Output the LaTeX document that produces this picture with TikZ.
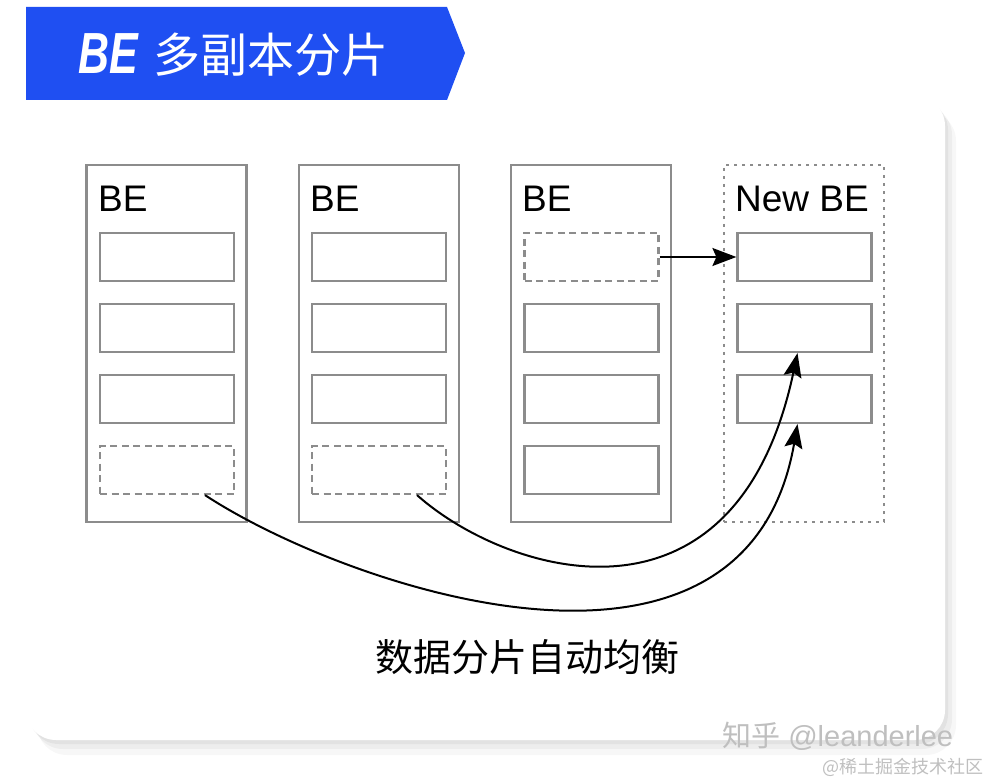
\documentclass[tikz,border=0pt]{standalone}
\usepackage{fontspec}
\setmainfont{Liberation Sans}
\newfontfamily\cjk{Noto Sans CJK SC}
\usetikzlibrary{arrows.meta,positioning,calc,shadows}

\definecolor{bannerblue}{HTML}{1F4FF2}
\definecolor{boxgray}{HTML}{8C8C8C}

\begin{document}
\begin{tikzpicture}[
    x=1pt, y=-1pt,
    card/.style={rectangle, fill=white, rounded corners=30pt, minimum width=919pt, minimum height=644pt,
        drop shadow={shadow xshift=3pt, shadow yshift=-4pt, opacity=0.05, fill=black},
        drop shadow={shadow xshift=7pt, shadow yshift=-9pt, opacity=0.04, fill=black},
        drop shadow={shadow xshift=11pt, shadow yshift=-15pt, opacity=0.03, fill=black}},
    bebox/.style={rectangle, draw=boxgray, line width=2.2pt, minimum width=160pt, minimum height=357pt, inner sep=0pt},
    newbox/.style={bebox, dash pattern=on 3pt off 5pt},
    shard/.style={rectangle, draw=boxgray, line width=2.2pt, minimum width=134pt, minimum height=48pt, inner sep=0pt},
    moved/.style={shard, dash pattern=on 7pt off 4.5pt},
    belabel/.style={anchor=base west, inner sep=0pt, font=\fontsize{37}{40}\selectfont},
    flow/.style={-{Stealth[length=24pt, width=18pt, inset=4pt]}, line width=2pt}
]
\useasboundingbox (0,0) rectangle (990,783);

% Card and banner
\node[card] (card) at (485.5,418) {};
\fill[bannerblue] (26,7) -- (447,7) -- (465,53) -- (447,100) -- (26,100) -- cycle;
\node[anchor=base west, inner sep=0pt, text=white, font=\fontsize{58}{60}\selectfont] (titlebe) at (78,74) {\scalebox{0.74}[1]{\bfseries\itshape BE}};
\node[anchor=base west, inner sep=0pt, text=white, font=\cjk\fontsize{47}{50}\selectfont] (titlecn) at (153,73) {多副本分片};

% BE nodes
\node[bebox] (be1) at (166.5,343.5) {};
\node[bebox] (be2) at (379,343.5) {};
\node[bebox] (be3) at (591,343.5) {};
\node[newbox] (newbe) at (804,343.5) {};

\node[belabel] (be1l) at (98,212) {BE};
\node[belabel] (be2l) at (310,212) {BE};
\node[belabel] (be3l) at (522,212) {BE};
\node[belabel] (newbel) at (735,212) {New BE};

% Shards
\node[shard] (be1s1) at (167,257) {};
\node[shard, below=20.8pt of be1s1] (be1s2) {};
\node[shard, below=20.8pt of be1s2] (be1s3) {};
\node[moved, below=20.8pt of be1s3] (be1s4) {};

\node[shard] (be2s1) at (379,257) {};
\node[shard, below=20.8pt of be2s1] (be2s2) {};
\node[shard, below=20.8pt of be2s2] (be2s3) {};
\node[moved, below=20.8pt of be2s3] (be2s4) {};

\node[moved] (be3s1) at (591.5,257) {};
\node[shard, below=20.8pt of be3s1] (be3s2) {};
\node[shard, below=20.8pt of be3s2] (be3s3) {};
\node[shard, below=20.8pt of be3s3] (be3s4) {};

\node[shard] (nbs1) at (804.5,257) {};
\node[shard, below=20.8pt of nbs1] (nbs2) {};
\node[shard, below=20.8pt of nbs2] (nbs3) {};

% Shards moving to the new BE
\draw[flow] (be3s1.east) -- (nbs1.west);
\draw[flow] ([xshift=38pt]be2s4.south) .. controls +(90,80) and +(-62,292) .. ([xshift=-7pt]nbs2.south);
\draw[flow] ([xshift=38pt]be1s4.south) .. controls +(140,92) and +(-52,300) .. ([xshift=-7pt]nbs3.south);

\node[font=\cjk\fontsize{38}{40}\selectfont] (balance) at (527,657) {数据分片自动均衡};

% Watermark
\node[anchor=base west, inner sep=0pt, text=black!25, font=\fontsize{29}{30}\selectfont] (wm1) at (722,746) {{\cjk 知乎} @leanderlee};
\node[anchor=base east, inner sep=0pt, text=black!25, font=\cjk\fontsize{18}{20}\selectfont] (wm2) at (984,773) {@稀土掘金技术社区};
\end{tikzpicture}
\end{document}
